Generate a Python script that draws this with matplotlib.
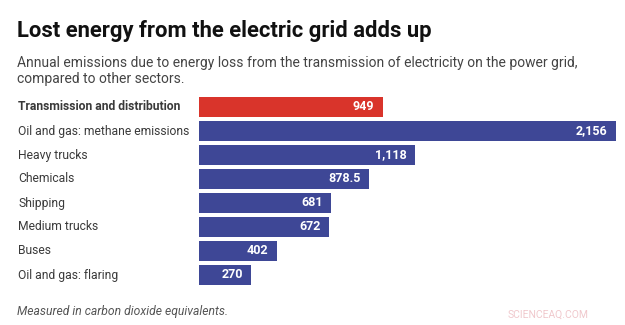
import matplotlib
matplotlib.use("Agg")
import matplotlib.pyplot as plt

plt.rcParams['font.family'] = ['Roboto', 'DejaVu Sans']

categories = ["Transmission and distribution", "Oil and gas: methane emissions",
              "Heavy trucks", "Chemicals", "Shipping", "Medium trucks",
              "Buses", "Oil and gas: flaring"]
values = [949, 2156, 1118, 878.5, 681, 672, 402, 270]
value_labels = ["949", "2,156", "1,118", "878.5", "681", "672", "402", "270"]

W, H = 625, 325
fig = plt.figure(figsize=(W / 100, H / 100), dpi=100)

# axes in pixel coordinates
x0, x1 = 199, 616
y_top, y_bot = 95, 287
ax = fig.add_axes([x0 / W, 1 - y_bot / H, (x1 - x0) / W, (y_bot - y_top) / H])

colors = ["#d9342b"] + ["#3e4796"] * (len(values) - 1)
ypos = list(range(len(values)))
ax.barh(ypos, values, height=0.83, color=colors)
ax.set_xlim(0, 2156)
ax.set_ylim(len(values) - 0.5, -0.5)
ax.axis("off")

for i, (v, lab) in enumerate(zip(values, value_labels)):
    ax.annotate(lab, (v, i), xytext=(-6, 0), textcoords="offset points",
                ha="right", va="center", color="white", fontsize=9,
                fontweight="bold")
    ax.annotate(categories[i], (0, i), xytext=(-181 * 0.72, 0),
                textcoords="offset points", ha="left", va="center",
                fontsize=8.7, color="#3a3a3a",
                fontweight="bold" if i == 0 else "normal")

fig.text(17 / W, 1 - 31 / H, "Lost energy from the electric grid adds up",
         fontsize=15.8, fontweight="bold", color="#111111", va="center")
fig.text(17 / W, 1 - 63 / H,
         "Annual emissions due to energy loss from the transmission of electricity on the power grid,",
         fontsize=10, color="#444444", va="center")
fig.text(17 / W, 1 - 79 / H, "compared to other sectors.",
         fontsize=10, color="#444444", va="center")
fig.text(17 / W, 1 - 312 / H, "Measured in carbon dioxide equivalents.",
         fontsize=8.7, style="italic", color="#555555", va="center")
fig.text(508 / W, 1 - 315 / H, "SCIENCEAQ.COM", fontsize=7.5,
         color="#f0c8cc", va="center")

fig.savefig("out.png", dpi=100)
